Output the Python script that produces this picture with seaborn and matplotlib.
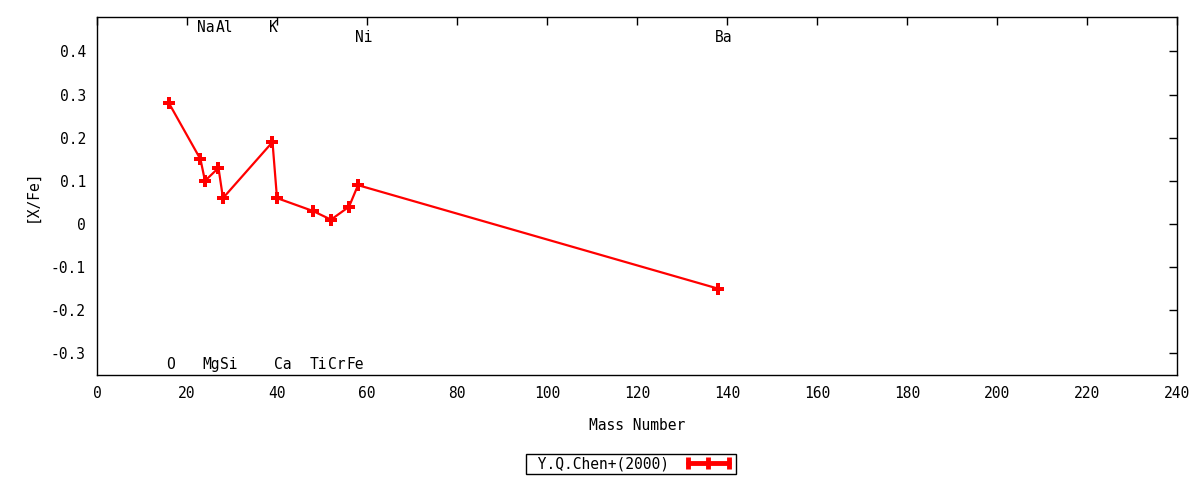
import matplotlib
matplotlib.use("Agg")
import matplotlib.pyplot as plt
import matplotlib.transforms as mtransforms
from matplotlib.lines import Line2D
import pandas as pd
import seaborn as sns

# abundance data (Y.Q.Chen+ 2000)
elements = ["O", "Na", "Mg", "Al", "Si", "K", "Ca", "Ti", "Cr", "Fe", "Ni", "Ba"]
mass = [16, 23, 24, 27, 28, 39, 40, 48, 52, 56, 58, 138]
x_fe = [0.28, 0.15, 0.10, 0.13, 0.06, 0.19, 0.06, 0.03, 0.01, 0.04, 0.09, -0.15]
# where each element name sits vertically
label_y = [-0.326, 0.456, -0.326, 0.456, -0.326, 0.456, -0.326, -0.326, -0.326, -0.326, 0.432, 0.432]

df = pd.DataFrame({"mass": mass, "xfe": x_fe, "el": elements})

sns.set_style("white")
plt.rcParams["font.family"] = ["DejaVu Sans Mono", "DejaVu Sans"]
plt.rcParams["font.size"] = 10.5
for k in ["text.color", "axes.labelcolor", "xtick.color", "ytick.color"]:
    plt.rcParams[k] = "black"

fig = plt.figure(figsize=(12, 4.8), dpi=100)
ax = fig.add_axes([0.0808, 0.219, 0.9002, 0.7456])

sns.lineplot(data=df, x="mass", y="xfe", sort=False, color="red", lw=1.6,
             marker="P", markersize=9, markeredgewidth=0, ax=ax, legend=False)

# element labels, left-justified like gnuplot
off = mtransforms.offset_copy(ax.transData, fig=fig, x=-3, y=0, units="dots")
for el, m, ly in zip(elements, mass, label_y):
    ax.text(m, ly, el, ha="left", va="center", transform=off)

ax.set_xlim(0, 240)
ax.set_ylim(-0.35, 0.48)
ax.set_xticks(range(0, 241, 20))
yt = [-0.3, -0.2, -0.1, 0, 0.1, 0.2, 0.3, 0.4]
ax.set_yticks(yt)
ax.set_yticklabels(["%g" % round(v, 1) for v in yt])
ax.tick_params(direction="in", length=6, width=1, top=True, right=True, pad=8)
for s in ax.spines.values():
    s.set_color("black")
    s.set_linewidth(1)

ax.set_xlabel("Mass Number", labelpad=12)
ax.set_ylabel("[X/Fe]", labelpad=8)

# gnuplot style key sample: thick line with end/middle bars
key = Line2D([], [], color="red", lw=3.5, marker="|", markersize=9, markeredgewidth=3.5)
leg = ax.legend([key], [" Y.Q.Chen+(2000) "], loc="center", bbox_to_anchor=(0.4944, -0.249),
                markerfirst=False, frameon=True, fancybox=False, edgecolor="black",
                borderpad=0.2, handlelength=3.4, handletextpad=0.4, numpoints=3, framealpha=1)
leg.get_frame().set_linewidth(1)

fig.savefig("out.png", dpi=100, facecolor="white")
